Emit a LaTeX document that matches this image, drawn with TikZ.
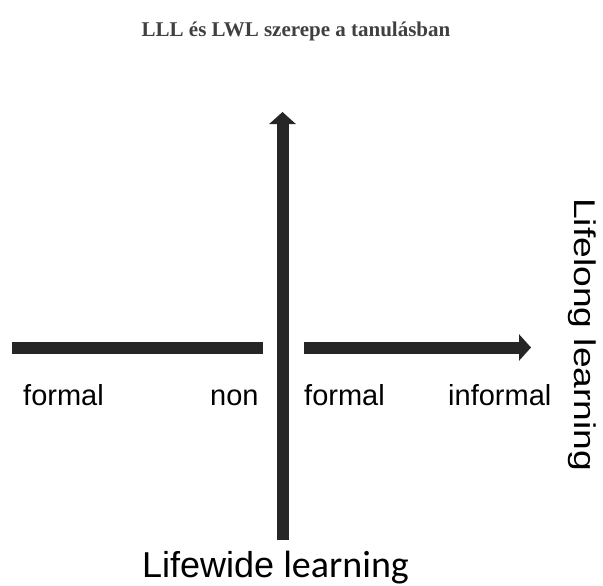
\documentclass[tikz,border=0pt]{standalone}
\usepackage{graphicx}
\usepackage{fontspec}
\setmainfont{Liberation Sans}
\newfontfamily\titlefont{Liberation Serif}
\newfontfamily\calfont{Carlito}
\usepackage{tikz}
\usetikzlibrary{arrows.meta}
\usetikzlibrary{positioning}
\definecolor{bardark}{HTML}{262626}
\definecolor{titlegray}{HTML}{404040}
\tikzstyle{bar} = [line width=12pt, draw=bardark]
\tikzstyle{bararrow} = [bar, -{Triangle[width=26pt,length=12pt]}]
\tikzstyle{lbl} = [anchor=base west, inner sep=0pt, font=\fontsize{29}{29}\selectfont]

\begin{document}
\begin{tikzpicture}[x=1pt, y=-1pt]
\useasboundingbox (0,0) rectangle (603,586);
\node (title) [anchor=base, inner sep=0pt, text=titlegray, font=\titlefont\bfseries\fontsize{21}{21}\selectfont] at (296,37) {LLL és LWL szerepe a tanulásban};
% axes
\coordinate (vbot) at (282.5,540);
\coordinate (vtop) at (282.5,112);
\coordinate (lstart) at (12,347.5);
\coordinate (lend) at (263,347.5);
\coordinate (rstart) at (304,347.5);
\coordinate (rend) at (531,347.5);
\draw [bararrow] (vbot) -- (vtop);
\draw [bar] (lstart) -- (lend);
\draw [bararrow] (rstart) -- (rend);
% labels
\node (formal1) [lbl] at (23,405) {formal};
\node (non) [lbl] at (210,405) {non};
\node (formal2) [lbl] at (304,405) {formal};
\node (informal) [lbl] at (448,405) {informal};
\node (lifelong) [anchor=base west, inner sep=0pt, rotate=-90, font=\fontsize{30}{30}\selectfont] at (574,198) {\scalebox{1.24}[1]{Lifelong learning}};
\node (lifewide) [anchor=base west, inner sep=0pt] at (142,577) {\fontsize{36}{36}\selectfont Lifewide\hspace{9pt}\calfont\fontsize{38}{38}\selectfont learning};
\end{tikzpicture}
\end{document}
